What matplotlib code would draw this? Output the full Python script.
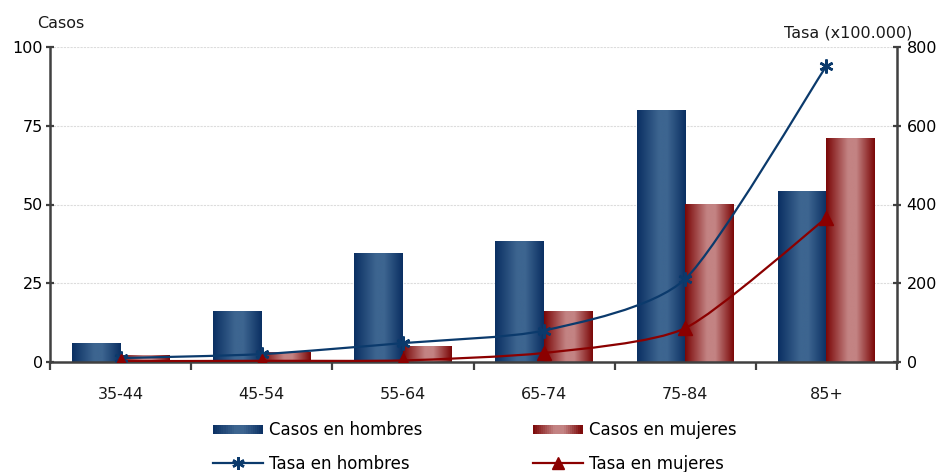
import numpy as np
import matplotlib
matplotlib.use("Agg")
import matplotlib.pyplot as plt
from matplotlib.path import Path
from matplotlib.patches import PathPatch, Rectangle
from matplotlib.colors import LinearSegmentedColormap
from matplotlib.legend_handler import HandlerBase
from matplotlib.lines import Line2D

plt.rcParams['font.family'] = ['DejaVu Sans']

grupos = ["35-44", "45-54", "55-64", "65-74", "75-84", "85+"]
casos_hombres = [6, 16, 34.5, 38.2, 80, 54]
casos_mujeres = [2, 3, 5, 16, 50, 71]
tasa_hombres = [10, 20, 48, 80, 211, 752]
tasa_mujeres = [2, 3, 4, 23, 86, 366]

azul_oscuro = "#0a2f62"
azul_claro = "#3d6590"
rojo_oscuro = "#7a0606"
rojo_claro = "#c38383"
linea_azul = "#0b3a6c"
linea_roja = "#8b0000"


def degradado(oscuro, claro):
    return LinearSegmentedColormap.from_list(
        "g", [(0.0, oscuro), (0.45, claro), (0.62, claro), (1.0, oscuro)])


cmap_azul = degradado(azul_oscuro, azul_claro)
cmap_rojo = degradado(rojo_oscuro, rojo_claro)
franja = np.linspace(0, 1, 256).reshape(1, -1)

fig = plt.figure(figsize=(9.47, 4.72), dpi=100)
ax = fig.add_axes([50 / 947, 1 - 362 / 472, 847 / 947, 315 / 472])
ax2 = ax.twinx()

x = np.arange(len(grupos))
ancho = 0.345
barras_h = ax.bar(x - ancho / 2, casos_hombres, ancho, color="none")
barras_m = ax.bar(x + ancho / 2, casos_mujeres, ancho, color="none")
for barras, cmap in ((barras_h, cmap_azul), (barras_m, cmap_rojo)):
    for r in barras:
        x0, w, h = r.get_x(), r.get_width(), r.get_height()
        ax.imshow(franja, cmap=cmap, aspect="auto", interpolation="bilinear",
                  extent=(x0, x0 + w, 0, h), zorder=2)

ax.set_xlim(-0.5, len(grupos) - 0.5)
ax.set_ylim(0, 100)
ax2.set_ylim(0, 800)


def curva_suave(xs, ys, k=9.0):
    pts = np.column_stack([xs, ys]).astype(float)
    ext = np.vstack([pts[0], pts, pts[-1]])
    verts = [pts[0]]
    codes = [Path.MOVETO]
    for i in range(len(pts) - 1):
        p0, p1, p2, p3 = ext[i], ext[i + 1], ext[i + 2], ext[i + 3]
        c1 = p1 + (p2 - p0) / k
        c2 = p2 - (p3 - p1) / k
        verts += [c1, c2, p2]
        codes += [Path.CURVE4] * 3
    return Path(verts, codes)


ax2.add_patch(PathPatch(curva_suave(x, tasa_hombres), fill=False,
                        edgecolor=linea_azul, lw=1.6, zorder=3))
ax2.add_patch(PathPatch(curva_suave(x, tasa_mujeres), fill=False,
                        edgecolor=linea_roja, lw=1.6, zorder=3))
ax2.plot(x, tasa_hombres, ls="none", marker=(6, 2, 0), ms=10, mew=1.8,
         color=linea_azul, zorder=4)
ax2.plot(x, tasa_mujeres, ls="none", marker="^", ms=10,
         color=linea_roja, zorder=4)

# grid and axes styling
ax.set_yticks([0, 25, 50, 75, 100])
ax.yaxis.grid(True, color="#dcdcdc", lw=0.8, ls=(0, (2, 1)))
ax.set_axisbelow(True)
ax2.set_yticks([0, 200, 400, 600, 800])
ax.set_xticks(x)
ax.set_xticklabels(grupos)
ax.set_xticks(np.arange(-0.5, len(grupos), 1), minor=True)
ax.tick_params(axis="x", which="major", length=0, pad=18, labelsize=11.5,
               labelcolor="#1a1a1a")
ax.tick_params(axis="x", which="minor", length=6, width=1.6, direction="out",
               color="#404040")
ax.tick_params(axis="y", length=6, width=1.6, direction="inout",
               color="#404040", labelsize=11.5, pad=2)
ax2.tick_params(axis="y", length=6, width=1.6, direction="inout",
                color="#404040", labelsize=11.5, pad=4)
ax.spines["top"].set_visible(False)
ax2.spines["top"].set_visible(False)
ax.spines["right"].set_visible(False)
ax2.spines["left"].set_visible(False)
ax2.spines["bottom"].set_visible(False)
for sp in (ax.spines["left"], ax.spines["bottom"], ax2.spines["right"]):
    sp.set_color("#404040")
    sp.set_linewidth(1.8)
ax2.set_xlim(-0.5, len(grupos) - 0.5)

fig.text(37 / 947, 1 - 23 / 472, "Casos", fontsize=11.5, va="center",
         ha="left", color="#1a1a1a")
fig.text(912 / 947, 1 - 33 / 472, "Tasa (x100.000)", fontsize=11.5,
         va="center", ha="right", color="#1a1a1a")


class HandlerDegradado(HandlerBase):
    def __init__(self, cmap):
        super().__init__()
        self.cmap = cmap

    def create_artists(self, legend, orig_handle, xdescent, ydescent, width,
                       height, fontsize, trans):
        n = 24
        artistas = []
        for i in range(n):
            c = self.cmap((i + 0.5) / n)
            artistas.append(Rectangle((-xdescent + width * i / n, -ydescent + height * 0.1),
                                      width / n * 1.05, height * 0.8,
                                      facecolor=c, edgecolor="none",
                                      transform=trans))
        return artistas


h_casos_h = Rectangle((0, 0), 1, 1)
h_casos_m = Rectangle((0, 0), 1, 1)
h_tasa_h = Line2D([], [], color=linea_azul, lw=1.6, marker=(6, 2, 0), ms=9,
                  mew=1.8)
h_tasa_m = Line2D([], [], color=linea_roja, lw=1.6, marker="^", ms=9)

fig.legend([h_casos_h, h_tasa_h, h_casos_m, h_tasa_m],
           ["Casos en hombres", "Tasa en hombres", "Casos en mujeres",
            "Tasa en mujeres"],
           handler_map={h_casos_h: HandlerDegradado(cmap_azul),
                        h_casos_m: HandlerDegradado(cmap_rojo)},
           ncol=2, loc="upper left", bbox_to_anchor=(213 / 947, 1 - 421 / 472),
           frameon=False, fontsize=12, handlelength=3.0, handletextpad=0.37,
           columnspacing=6.6, labelspacing=0.95, borderaxespad=0,
           borderpad=0)

fig.savefig("out.png", dpi=100)
